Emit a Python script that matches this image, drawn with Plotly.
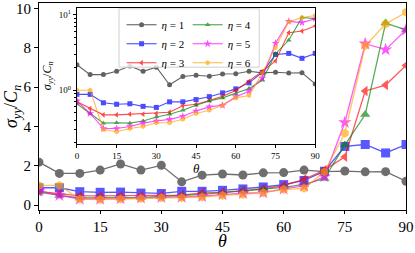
import plotly.graph_objects as go

theta = [0, 5, 10, 15, 20, 25, 30, 35, 40, 45, 50, 55, 60, 65, 70, 75, 80, 85, 90]
eta1 = [2.18, 1.61, 1.61, 1.78, 2.09, 1.78, 2.02, 1.18, 1.52, 1.58, 1.53, 1.64, 1.65, 1.78, 1.70, 1.73, 1.69, 1.70, 1.21]
eta2 = [0.88, 0.88, 0.68, 0.65, 0.66, 0.61, 0.59, 0.70, 0.70, 0.75, 0.82, 0.92, 1.04, 1.25, 1.72, 2.98, 3.08, 2.65, 3.08]
eta3 = [0.70, 0.57, 0.47, 0.47, 0.48, 0.48, 0.49, 0.51, 0.62, 0.65, 0.73, 0.83, 0.99, 1.31, 1.78, 2.45, 5.8, 6.1, 7.1]
eta4 = [0.66, 0.49, 0.365, 0.37, 0.365, 0.39, 0.44, 0.48, 0.54, 0.63, 0.72, 0.79, 0.90, 1.05, 1.35, 3.05, 4.6, 9.25, 8.9]
eta5 = [0.72, 0.49, 0.31, 0.31, 0.33, 0.365, 0.39, 0.41, 0.45, 0.53, 0.60, 0.63, 0.82, 0.97, 1.45, 4.2, 8.2, 7.9, 8.9]
eta6 = [1.0, 1.0, 0.30, 0.28, 0.31, 0.33, 0.37, 0.37, 0.41, 0.49, 0.54, 0.63, 0.79, 0.85, 1.69, 3.65, 8.1, 9.2, 9.8]

series = [eta1, eta2, eta3, eta4, eta5, eta6]
names = ["<i>η</i> = 1", "<i>η</i> = 2", "<i>η</i> = 3", "<i>η</i> = 4", "<i>η</i> = 5", "<i>η</i> = 6"]
colors = ["#222222", "#0000ff", "#ff0000", "#008000", "#ff00ff", "#ffa500"]
symbols = ["circle", "square", "triangle-left", "triangle-up", "star", "hexagon"]

main_ticks = [0, 15, 30, 45, 60, 75, 90]
y_ticks = [0, 2, 4, 6, 8, 10]

FONT = "Liberation Serif"

fig = go.Figure()
for vals, c, s in zip(series, colors, symbols):
    fig.add_trace(go.Scatter(
        x=theta, y=vals, mode="lines+markers",
        line=dict(color=c, width=1.3),
        marker=dict(symbol=s, size=9 if s != "star" else 10, color=c, line=dict(width=0)),
        opacity=0.65, showlegend=False, xaxis="x", yaxis="y"))

for i, (vals, c, s, n) in enumerate(zip(series, colors, symbols, names)):
    fig.add_trace(go.Scatter(
        x=theta, y=vals, mode="lines+markers", name=n,
        line=dict(color=c, width=1.1),
        marker=dict(symbol=s, size=5 if s != "star" else 6, color=c, line=dict(width=0)),
        opacity=0.7, xaxis="x2", yaxis="y2",
        legend="legend" if i < 3 else "legend2"))

axis_common = dict(showline=True, mirror=True, linecolor="black", linewidth=1.2,
                   showgrid=False, zeroline=False, ticks="outside", tickcolor="black",
                   ticklabeloverflow="allow")

minor_vals = [0.2, 0.3, 0.4, 0.5, 0.6, 0.7, 0.8, 0.9, 2, 3, 4, 5, 6, 7, 8, 9]

fig.update_layout(
    width=415, height=253,
    margin=dict(l=39, r=8, t=1, b=43),
    paper_bgcolor="white", plot_bgcolor="white",
    font=dict(family=FONT, color="black"),
    xaxis=dict(domain=[0, 1], range=[0, 90], tickvals=main_ticks, ticklen=3,
               tickfont=dict(size=15), **axis_common),
    yaxis=dict(domain=[0, 1], range=[-0.25, 10.27], tickvals=y_ticks, ticklen=4,
               tickfont=dict(size=15), **axis_common),
    xaxis2=dict(domain=[0.1033, 0.7527], anchor="y2", range=[0, 90], tickvals=main_ticks,
                ticklen=3, tickfont=dict(size=9), **axis_common),
    yaxis2=dict(domain=[0.3206, 0.976], anchor="x2", type="log", range=[-0.71, 1.092],
                tickvals=[1, 10], ticktext=["10<sup>0</sup>", "10<sup>1</sup>"],
                ticklen=3, tickfont=dict(size=9),
                minor=dict(tickvals=minor_vals, ticks="outside", ticklen=2, tickcolor="black"),
                **axis_common),
    legend=dict(x=0.225, y=0.965, xanchor="left", yanchor="top", bgcolor="rgba(0,0,0,0)",
                font=dict(size=11), tracegroupgap=0, borderwidth=0),
    legend2=dict(x=0.405, y=0.965, xanchor="left", yanchor="top", bgcolor="rgba(0,0,0,0)",
                 font=dict(size=11), tracegroupgap=0, borderwidth=0),
    shapes=[dict(type="rect", xref="paper", yref="paper", x0=0.218, x1=0.6, y0=0.69, y1=0.972,
                 line=dict(color="#d0d0d0", width=1), fillcolor="rgba(255,255,255,0.8)",
                 layer="above")],
    annotations=[
        dict(text="<i>θ</i>", xref="paper", yref="paper", x=0.5, y=-0.208, showarrow=False,
             font=dict(size=18), xanchor="center", yanchor="bottom"),
        dict(text="<i>σ<sub>yy</sub></i>/<i>C<sub>n</sub></i>", xref="paper", yref="paper",
             x=-0.072, y=0.5, showarrow=False, textangle=-90,
             font=dict(size=18), xanchor="center", yanchor="middle"),
        dict(text="<i>θ</i>", xref="paper", yref="paper", x=0.429, y=0.201, showarrow=False,
             font=dict(size=13), xanchor="center", yanchor="middle"),
        dict(text="<i>σ<sub>yy</sub></i>/<i>C<sub>n</sub></i>", xref="paper", yref="paper",
             x=0.0245, y=0.651, showarrow=False, textangle=-90,
             font=dict(size=12), xanchor="center", yanchor="middle"),
    ],
)

fig.write_html("out.html", config={"displayModeBar": False},
               post_script=["document.body.style.margin='0';document.body.style.overflow='hidden';"])
